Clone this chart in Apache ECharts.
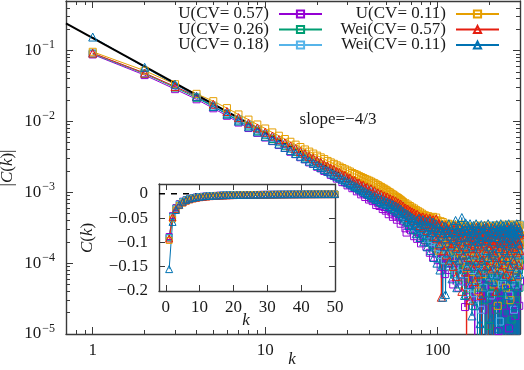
<!DOCTYPE html>
<html><head><meta charset="utf-8">
<script src="https://cdn.jsdelivr.net/npm/echarts@6/dist/echarts.min.js"></script>
<style>html,body{margin:0;padding:0;background:#fff}#c{width:524px;height:370px}</style>
</head><body><div id="c"></div><script>
const kValues = Array.from({length: 300}, (_, i) => i + 1);
const seriesNames = ['U(CV= 0.57)', 'U(CV= 0.26)', 'U(CV= 0.18)', 'U(CV= 0.11)', 'Wei(CV= 0.57)', 'Wei(CV= 0.11)'];

const u057 = [
.088,.045,.0285,.0205,.0153,.0120,.00963,.00806,.00689,.00592,
.00527,.00464,.00422,.00373,.00345,.00312,.00292,.00264,.00252,.00229,
.00217,.00200,.00193,.00176,.00170,.00156,.00156,.00139,.00138,.00125,
.00128,.00114,.00115,.00103,.00107,.000934,.000974,.000857,.000919,.000789,
.00082,.00075,.00079,.00066,.00071,.00064,.00069,.00058,.00062,.00055,
.00061,.00049,.00057,.00052,.00045,.00056,.00047,.00041,.00050,.00044,
3.6e-4,4.7e-4,3.9e-4,4.3e-4,3.1e-4,2.7e-4,4.1e-4,3.5e-4,3.8e-4,2.9e-4,
4.0e-4,3.3e-4,2.4e-4,3.6e-4,3.1e-4,2.2e-4,3.5e-4,2.8e-4,3.2e-4,1.9e-4,
3.0e-4,2.6e-4,3.3e-4,2.1e-4,2.7e-4,1.7e-4,2.9e-4,2.4e-4,3.1e-4,1.4e-4,
2.6e-4,2.2e-4,2.8e-4,1.2e-4,2.4e-4,1.9e-4,2.7e-4,1.6e-4,2.3e-4,1.1e-4,
2.3e-4,1.6e-4,2.0e-4,8.8e-5,2.2e-4,1.4e-4,1.8e-4,2.5e-4,1.2e-4,7e-5,
2.0e-4,1.5e-4,2.3e-4,1.0e-4,1.7e-4,2.1e-4,8e-5,1.9e-4,1.4e-4,2.2e-4,
1.2e-4,1.8e-4,5e-5,1.6e-4,2.0e-4,1.0e-4,1.7e-4,2.3e-4,9e-5,1.5e-4,
1.9e-4,4.5e-5,1.4e-4,1.9e-4,1.1e-4,1.6e-4,7e-5,2.1e-4,1.3e-4,9e-5,
1.7e-4,1.4e-4,5.5e-5,2.4e-5,1.5e-4,2.0e-4,1.0e-4,1.3e-4,6e-5,1.8e-4,
1.2e-4,1.6e-4,3.3e-5,1.4e-4,2.1e-4,7e-5,1.2e-4,1.7e-4,5e-5,1.1e-4,
1.8e-4,8e-5,1.4e-4,4e-6,1.1e-4,2.0e-4,6e-5,1.3e-4,9e-5,3.3e-5,
1.5e-4,1.0e-4,2.2e-4,5e-5,1.2e-4,1.7e-4,9e-5,3.5e-5,1.4e-4,1.1e-4,
1.9e-4,7e-5,1.3e-4,2.2e-5,1.6e-4,8e-5,1.3e-4,4.5e-5,2.0e-4,1.0e-4,
8e-6,1.4e-4,9e-5,1.7e-4,5e-5,1.2e-4,1.5e-4,3e-5,1.2e-4,7e-5,
1.8e-4,1.0e-4,4.5e-5,1.4e-4,8e-5,2.1e-4,9e-6,1.1e-4,1.5e-4,6e-5,
1.2e-4,9e-5,1.9e-4,3.5e-5,1.1e-4,7e-5,1.6e-4,2.2e-5,1.3e-4,9e-5,
5e-5,1.7e-4,8e-5,1.2e-4,1.1e-5,1.5e-4,1.0e-4,4e-5,1.8e-4,6e-5,
1.1e-4,1.4e-4,2.8e-5,9e-5,2.0e-4,7e-5,1.2e-4,2e-6,1.5e-4,8e-5,
5.5e-5,1.3e-4,1.7e-4,3.5e-5,1.0e-4,7.5e-5,1.9e-4,4.5e-5,1.2e-4,2e-5,
1.4e-4,9e-5,6e-5,1.6e-4,1.1e-4,4e-5,8e-5,1.5e-4,1.2e-5,1.3e-4,
7e-5,1.8e-4,1.0e-4,5e-5,1.2e-4,2.6e-5,1.6e-4,7.5e-5,1.4e-4,4.5e-5,
9e-5,2.0e-4,5e-6,1.1e-4,1.5e-4,6e-5,8.5e-5,1.7e-4,3.8e-5,1.3e-4,
1.0e-4,1.8e-5,1.6e-4,7e-5,1.2e-4,5e-5,1.9e-4,9e-5,3e-5,1.4e-4,
6.5e-5,1.7e-4,4.5e-5,1.1e-4,8e-5,2.1e-4,2.5e-5,1.3e-4,9e-5,5.5e-5
];
const u026 = [
.090,.047,.030,.0215,.0161,.0128,.0103,.00872,.00737,.00648,
.00564,.00508,.00447,.00413,.00369,.00346,.00309,.00296,.00266,.00260,
.00233,.00229,.00204,.00206,.00183,.00185,.00163,.00169,.00148,.00154,
.00134,.00143,.00122,.00133,.00113,.00125,.00103,.00117,.000953,.00111,
.00089,.00101,.00082,.00094,.00078,.00090,.00071,.00085,.00074,.00081,
.00066,.00079,.00070,.00064,.00075,.00058,.00069,.00062,.00054,.00067,
5.6e-4,4.9e-4,6.1e-4,4.4e-4,5.3e-4,4.0e-4,5.0e-4,3.7e-4,4.8e-4,4.2e-4,
3.4e-4,4.6e-4,3.9e-4,2.9e-4,4.3e-4,3.6e-4,4.1e-4,2.6e-4,3.8e-4,3.3e-4,
4.0e-4,2.4e-4,3.5e-4,3.0e-4,3.8e-4,2.1e-4,3.4e-4,2.8e-4,3.6e-4,2.3e-4,
3.2e-4,2.7e-4,1.8e-4,3.4e-4,2.5e-4,3.0e-4,1.6e-4,3.1e-4,2.2e-4,2.8e-4,
1.9e-4,3.0e-4,2.2e-4,1.3e-4,2.7e-4,1.9e-4,2.5e-4,1.1e-4,2.8e-4,2.1e-4,
1.5e-4,2.6e-4,1.8e-4,2.4e-4,9e-5,2.2e-4,2.8e-4,1.6e-4,2.0e-4,1.2e-4,
2.4e-4,1.7e-4,2.2e-4,7e-5,1.9e-4,2.6e-4,1.4e-4,2.0e-4,9e-5,2.3e-4,
1.6e-4,1.9e-4,5e-5,2.2e-4,1.5e-4,1.8e-4,1.1e-4,2.5e-4,1.3e-4,8e-5,
2.0e-4,1.6e-4,2.3e-4,1.0e-4,1.5e-4,3.5e-5,1.9e-4,1.5e-4,2.2e-4,1.2e-4,
8.5e-5,1.8e-4,1.3e-4,2.4e-4,6e-5,1.6e-4,2.0e-4,1.1e-4,1.5e-4,2.5e-5,
1.7e-4,1.2e-4,2.1e-4,9e-5,1.4e-4,6.5e-5,1.9e-4,1.1e-4,2.3e-4,4.5e-5,
1.3e-4,1.8e-4,9.5e-5,1.6e-4,5e-6,1.2e-4,2.0e-4,8e-5,1.5e-4,1.0e-4,
2.2e-4,5.5e-5,1.4e-4,1.7e-4,8.5e-5,1.3e-4,3e-5,1.9e-4,1.1e-4,1.6e-4,
7e-5,1.2e-4,2.1e-4,4.5e-5,1.5e-4,9e-5,1.8e-4,1.3e-5,1.3e-4,1.0e-4,
1.7e-4,6e-5,1.4e-4,8.5e-5,2.0e-4,1.1e-4,3.8e-5,1.6e-4,9e-5,1.9e-4,
7e-6,1.3e-4,1.0e-4,1.7e-4,6.5e-5,1.2e-4,2.1e-4,8e-5,4.5e-5,1.5e-4,
1.1e-4,1.8e-4,2.2e-5,1.4e-4,9e-5,1.6e-4,6e-5,1.2e-4,2.0e-4,7.5e-5,
1.3e-4,3.8e-5,1.7e-4,1.0e-4,1.5e-4,8e-5,2.2e-4,5e-5,1.1e-4,1.6e-4,
9e-5,3e-6,1.4e-4,1.9e-4,6.5e-5,1.2e-4,1.0e-4,1.7e-4,4.5e-5,1.3e-4,
8e-5,1.6e-4,1.1e-4,3e-5,1.8e-4,9e-5,1.4e-4,6e-5,2.0e-4,7.5e-5,
1.2e-4,1.5e-4,3.8e-5,1.0e-4,1.7e-4,8e-5,1.3e-4,1.6e-5,1.6e-4,1.1e-4,
6.5e-5,1.9e-4,9e-5,1.4e-4,4.5e-5,1.2e-4,2.1e-4,7.5e-5,1.0e-4,1.5e-4,
5e-5,1.3e-4,1.8e-4,8.5e-5,3e-5,1.6e-4,1.1e-4,9e-5,2.0e-4,6e-5,
1.4e-4,1.0e-4,9e-6,1.7e-4,1.2e-4,8e-5,1.5e-4,4.5e-5,1.9e-4,1.1e-4
];
const u018 = [
.091,.048,.031,.0222,.0167,.0131,.0107,.00893,.00765,.00664,
.00586,.00520,.00468,.00424,.00387,.00354,.00328,.00302,.00283,.00262,
.00248,.00230,.00220,.00204,.00197,.00183,.00178,.00166,.00162,.00150,
.00149,.00137,.00138,.00126,.00128,.00116,.00120,.00107,.00113,.00101,
.00106,.00093,.00099,.00087,.00094,.00080,.00090,.00077,.00086,.00072,
.00082,.00069,.00078,.00071,.00063,.00076,.00060,.00070,.00064,.00057,
6.6e-4,5.2e-4,5.9e-4,4.7e-4,5.6e-4,4.3e-4,5.3e-4,4.6e-4,3.9e-4,5.0e-4,
4.4e-4,3.6e-4,4.8e-4,3.2e-4,4.2e-4,4.6e-4,3.0e-4,4.0e-4,3.5e-4,4.3e-4,
2.8e-4,3.9e-4,3.4e-4,4.1e-4,2.5e-4,3.7e-4,3.2e-4,2.2e-4,3.8e-4,3.0e-4,
3.5e-4,2.0e-4,3.3e-4,2.8e-4,3.6e-4,1.7e-4,3.1e-4,2.6e-4,3.4e-4,1.9e-4,
2.6e-4,3.0e-4,1.3e-4,2.4e-4,1.9e-4,3.2e-4,1.5e-4,2.2e-4,2.8e-4,1.1e-4,
2.5e-4,2.0e-4,2.9e-4,1.3e-4,2.3e-4,1.7e-4,3.1e-4,9e-5,2.1e-4,2.6e-4,
1.4e-4,2.7e-4,1.9e-4,1.1e-4,2.4e-4,3.3e-4,7e-5,2.1e-4,1.7e-4,2.6e-4,
1.2e-4,2.3e-4,1.9e-4,5.5e-5,2.8e-4,1.5e-4,2.2e-4,9e-5,2.5e-4,1.7e-4,
3.0e-4,1.2e-4,2.0e-4,7e-5,2.4e-4,1.4e-4,2.7e-4,3.8e-5,1.8e-4,2.2e-4,
1.0e-4,2.9e-4,1.6e-4,1.2e-4,2.3e-4,4.5e-5,1.9e-4,2.6e-4,8e-5,2.1e-4,
1.5e-4,2.5e-4,3e-5,2.0e-4,1.3e-4,2.8e-4,9e-5,1.7e-4,2.2e-4,6e-5,
2.4e-4,1.2e-4,1.9e-4,3.1e-4,7.5e-5,1.6e-4,2.3e-4,2.2e-5,1.8e-4,1.4e-4,
2.7e-4,1.0e-4,2.1e-4,4.5e-5,2.5e-4,1.5e-4,1.9e-4,8e-5,3.0e-4,1.2e-4,
2.2e-4,7e-6,1.7e-4,2.6e-4,9.5e-5,2.0e-4,1.3e-4,3.2e-4,6.5e-5,1.8e-4,
2.3e-4,1.1e-4,2.8e-4,3.5e-5,1.6e-4,2.1e-4,8.5e-5,2.5e-4,1.4e-4,3.4e-4,
7e-5,1.9e-4,2.4e-4,4e-6,1.7e-4,1.2e-4,2.9e-4,9e-5,2.0e-4,1.5e-4,
2.6e-4,5.5e-5,2.2e-4,1.3e-4,3.1e-4,8e-5,1.8e-4,2.3e-4,1.5e-5,1.6e-4,
2.7e-4,1.0e-4,2.1e-4,1.4e-4,3.3e-4,5e-5,1.9e-4,2.5e-4,8.5e-5,1.7e-4,
2.2e-4,1.2e-4,3.0e-4,6.5e-5,2.0e-4,1.5e-4,2.6e-4,6e-6,1.8e-4,2.3e-4,
9.5e-5,2.8e-4,1.4e-4,2.1e-4,7e-5,3.2e-4,1.6e-4,1.1e-4,2.4e-4,3.5e-5,
1.9e-4,2.9e-4,8.5e-5,2.2e-4,1.5e-4,3.5e-4,5.5e-5,1.7e-4,2.5e-4,1.2e-4,
2.0e-4,7.5e-5,3.1e-4,1.6e-4,1.0e-4,2.3e-4,2.2e-5,2.7e-4,1.3e-4,1.8e-4,
3.3e-4,9e-5,2.1e-4,1.4e-4,2.6e-4,5e-5,1.9e-4,3.0e-4,1.1e-4,1.6e-4,
2.4e-4,7e-5,2.8e-4,1.5e-4,2.0e-4,5e-6,3.2e-4,1.2e-4,2.2e-4,3.5e-4
];
const u011 = [
.096,.052,.0335,.0245,.0193,.0154,.01254,.0106,.00905,.00794,
.00699,.00628,.00564,.00516,.00470,.00435,.00402,.00375,.00352,.00329,
.00311,.00294,.00277,.00264,.00252,.00240,.00230,.00220,.00211,.00203,
.00196,.00187,.00181,.00176,.00169,.00164,.00159,.00154,.00150,.00146,
.00142,.00137,.00134,.00129,.00126,.00121,.00119,.00114,.00112,.00108,
.00105,.00101,.00099,.00095,.00093,.00090,.00087,.00085,.00083,.00080,
7.8e-4,7.5e-4,7.3e-4,6.8e-4,7.0e-4,6.4e-4,6.7e-4,6.1e-4,6.4e-4,5.8e-4,
6.1e-4,5.6e-4,5.9e-4,5.2e-4,5.6e-4,5.0e-4,5.4e-4,4.7e-4,5.2e-4,4.5e-4,
5.0e-4,4.3e-4,4.8e-4,3.9e-4,4.7e-4,4.2e-4,3.6e-4,4.6e-4,4.0e-4,4.4e-4,
3.4e-4,4.3e-4,3.8e-4,4.5e-4,3.1e-4,4.1e-4,3.6e-4,4.4e-4,2.8e-4,4.0e-4,
1.5e-4,3.6e-4,3.0e-4,3.9e-4,2.3e-4,3.3e-4,3.8e-4,2.0e-4,3.1e-4,3.5e-4,
2.6e-4,3.4e-4,1.8e-4,3.2e-4,3.6e-4,2.3e-4,3.0e-4,1.6e-4,3.3e-4,2.8e-4,
3.5e-4,2.0e-4,3.1e-4,1.2e-4,2.9e-4,3.4e-4,1.8e-4,3.2e-4,2.5e-4,3.0e-4,
1.4e-4,3.3e-4,2.7e-4,2.1e-4,3.1e-4,3.5e-4,1.6e-4,2.8e-4,2.3e-4,3.2e-4,
1.1e-4,2.9e-4,3.4e-4,1.9e-4,2.6e-4,3.1e-4,8.5e-5,2.8e-4,2.2e-4,3.3e-4,
1.7e-4,2.7e-4,3.2e-4,1.2e-4,2.5e-4,3.0e-4,2.0e-4,6e-5,2.9e-4,2.4e-4,
3.2e-4,1.5e-4,2.6e-4,2.1e-4,3.1e-4,1.0e-4,2.8e-4,2.3e-4,3.4e-4,1.8e-4,
2.5e-4,4e-5,3.0e-4,2.0e-4,2.7e-4,3.2e-4,1.4e-4,2.4e-4,2.9e-4,1.1e-4,
2.6e-4,3.3e-4,1.9e-4,2.3e-4,7e-5,3.0e-4,2.5e-4,3.1e-4,1.6e-4,2.7e-4,
2.2e-4,3.4e-4,1.0e-4,2.8e-4,2.4e-4,6e-6,2.9e-4,2.0e-4,3.2e-4,1.7e-4,
2.6e-4,1.3e-4,3.0e-4,2.3e-4,3.3e-4,8e-5,2.5e-4,2.8e-4,1.9e-4,3.1e-4,
5e-5,2.7e-4,2.2e-4,3.2e-4,1.5e-4,2.4e-4,2.9e-4,1.1e-4,2.6e-4,2.1e-4,
3.4e-4,1.6e-4,2.5e-5,2.8e-4,2.3e-4,3.1e-4,1.2e-4,2.5e-4,3.0e-4,1.8e-4,
2.4e-4,3.3e-4,9e-5,2.7e-4,2.0e-4,2.9e-4,8e-6,2.2e-4,3.2e-4,1.4e-4,
2.6e-4,2.1e-4,3.5e-4,1.0e-4,2.4e-4,2.8e-4,1.7e-4,3.1e-4,4.5e-5,2.5e-4,
3.0e-4,1.5e-4,2.3e-4,3.2e-4,1.9e-4,7e-5,2.7e-4,2.2e-4,3.4e-4,1.3e-4,
2.5e-4,2.9e-4,1.8e-4,3e-5,2.6e-4,2.1e-4,3.3e-4,1.1e-4,2.4e-4,2.8e-4,
1.6e-4,3.1e-4,2.2e-4,9e-5,3.0e-4,2.5e-4,3.5e-4,1.4e-4,2.0e-4,5e-6,
2.7e-4,2.3e-4,3.2e-4,1.2e-4,2.5e-4,2.9e-4,1.7e-4,6.5e-5,2.6e-4,2.1e-4,
3.3e-4,1.5e-4,2.4e-4,3.0e-4,1.0e-4,2.8e-4,2.2e-4,3.4e-4,1.8e-4,2.5e-4
];
const wei057 = [
.092,.048,.031,.0225,.0175,.0138,.0113,.00942,.00808,.00703,
.00622,.00552,.00498,.00450,.00412,.00376,.00349,.00321,.00301,.00279,
.00264,.00245,.00234,.00218,.00210,.00196,.00190,.00177,.00173,.00161,
.00159,.00147,.00146,.00135,.00135,.00124,.00126,.00115,.00118,.00106,
.00112,.00099,.00105,.00093,.00098,.00087,.00094,.00082,.00089,.00078,
.00086,.00074,.00081,.00071,.00078,.00066,.00075,.00063,.00071,.00060,
6.8e-4,5.5e-4,6.4e-4,5.2e-4,6.0e-4,4.9e-4,5.8e-4,4.4e-4,5.5e-4,4.7e-4,
5.3e-4,4.0e-4,5.1e-4,4.3e-4,3.7e-4,4.9e-4,4.1e-4,4.6e-4,3.4e-4,4.4e-4,
3.9e-4,4.5e-4,3.2e-4,4.2e-4,3.6e-4,4.4e-4,2.9e-4,4.0e-4,3.5e-4,4.3e-4,
2.7e-4,3.8e-4,3.3e-4,4.1e-4,2.4e-4,3.6e-4,3.1e-4,4.2e-4,2.2e-4,3.5e-4,
2.7e-4,3.6e-4,1.8e-4,3.1e-4,3.3e-5,2.6e-4,3.4e-4,1.5e-4,2.9e-4,2.2e-4,
3.4e-4,1.3e-4,2.6e-4,3.1e-4,1.9e-4,2.9e-4,1.1e-4,2.4e-4,3.2e-4,1.7e-4,
2.7e-4,2.1e-4,9e-5,3.0e-4,1.9e-4,2.4e-4,3.3e-4,6.5e-5,2.5e-4,1.7e-4,
2.8e-4,2.2e-4,1.1e-4,3.1e-4,1.5e-4,2.3e-4,2.7e-4,4e-5,2.0e-4,2.9e-4,
1.3e-4,2.4e-4,3.0e-4,1.7e-4,7.5e-5,2.6e-4,2e-6,2.1e-4,2.8e-4,1.2e-4,
2.3e-4,3.1e-4,1.6e-4,3e-5,2.5e-4,1.9e-4,2.9e-4,9e-5,2.1e-4,2.6e-4,
1.4e-4,3.0e-4,1.8e-4,5.5e-5,2.7e-4,2.2e-4,1.0e-4,3.2e-4,1.6e-4,2.3e-4,
2.8e-4,7e-5,2.0e-4,2.5e-4,1.2e-4,2.9e-4,1.7e-4,3.5e-5,2.6e-4,3e-6,
2.1e-4,3.0e-4,1.1e-4,2.3e-4,1.8e-4,3.1e-4,8e-5,2.4e-4,1.9e-4,7e-6,
2.7e-4,1.4e-4,2.2e-4,3.2e-4,9e-5,2.0e-4,4e-6,2.8e-4,1.6e-4,2.3e-4,
1.1e-4,2.9e-4,1.9e-4,9e-6,2.6e-4,1.5e-4,2.2e-4,3.1e-4,8.5e-5,2.1e-4,
2.7e-4,5e-6,1.8e-4,3.0e-4,1.3e-4,2.3e-4,1.6e-4,4e-5,2.8e-4,2.0e-4,
1.2e-4,2.5e-4,2e-6,2.2e-4,3.1e-4,1.0e-4,1.9e-4,2.6e-4,8e-6,1.7e-4,
2.9e-4,8e-5,2.1e-4,2.5e-4,4e-6,1.8e-4,2.7e-4,1.2e-4,2.3e-4,7e-6,
2.0e-4,3.0e-4,9.5e-5,1.5e-4,2.8e-4,3e-6,2.2e-4,1.4e-4,2.6e-4,7e-5,
1.9e-4,6e-6,2.9e-4,1.6e-4,2.3e-4,1.1e-4,3.2e-4,5e-6,2.0e-4,2.5e-4,
8.5e-5,1.8e-4,2.8e-4,9e-6,2.1e-4,1.5e-4,3.1e-4,6.5e-5,2.2e-4,4e-6,
2.7e-4,1.7e-4,1.1e-4,3.0e-4,2e-6,2.0e-4,2.5e-4,1.0e-4,1.9e-4,2.9e-4,
6e-6,2.3e-4,1.6e-4,3.2e-4,8e-5,2.1e-4,3e-6,2.6e-4,1.4e-4,2.2e-4,
2.8e-4,8e-6,1.8e-4,3.1e-4,9.5e-5,2.0e-4,5e-6,2.5e-4,1.5e-4,2.7e-4
];
const wei011 = [
.155,.058,.0335,.0225,.0162,.0126,.0101,.00838,.00713,.00616,
.00541,.00480,.00430,.00388,.00353,.00323,.00298,.00275,.00256,.00239,
.00224,.00210,.00198,.00187,.00177,.00168,.00160,.00152,.00145,.00138,
.00132,.00127,.00121,.00117,.00112,.00108,.00104,.00100,.00097,.00093,
.00091,.00084,.00088,.00079,.00083,.00074,.00080,.00070,.00076,.00067,
.00073,.00063,.00070,.00060,.00067,.00056,.00064,.00053,.00061,.00050,
5.8e-4,4.6e-4,5.4e-4,4.2e-4,5.1e-4,3.8e-4,4.9e-4,3.4e-4,4.6e-4,3.9e-4,
4.4e-4,3.0e-4,4.2e-4,3.6e-4,2.6e-4,4.0e-4,3.3e-4,4.3e-4,2.3e-4,3.7e-4,
3.1e-4,4.1e-4,2.0e-4,3.5e-4,2.8e-4,3.9e-4,1.7e-4,3.3e-4,2.5e-4,4.0e-4,
1.5e-4,3.2e-4,2.7e-4,3.8e-4,1.2e-4,3.0e-4,2.3e-4,3.6e-4,1.0e-4,2.9e-4,
3.2e-4,1.9e-4,8e-5,2.9e-4,2.4e-4,3.5e-4,3.3e-5,2.6e-4,1.7e-4,3.3e-4,
3.6e-5,2.2e-4,3.0e-4,1.4e-4,2.7e-4,3.6e-4,1.0e-4,2.4e-4,3.1e-4,1.8e-4,
6e-5,2.8e-4,2.2e-4,3.4e-4,1.2e-4,2.6e-4,4.0e-4,1.6e-4,4.5e-5,3.0e-4,
2.1e-4,3.5e-4,1.1e-4,2.7e-4,3.2e-4,7e-5,2.3e-4,4.4e-4,1.8e-4,2.9e-4,
1.3e-4,3.3e-4,3.5e-5,2.4e-4,3.7e-4,1.6e-4,2.8e-4,9e-5,3.4e-4,2.0e-4,
3.0e-4,1.1e-4,2.5e-4,3.6e-4,5e-5,2.2e-4,3.1e-4,1.8e-5,2.7e-4,1.7e-4,
3.4e-4,9e-5,2.2e-4,2.9e-4,2.5e-5,2.5e-4,3.6e-4,1.3e-4,2.0e-4,8e-6,
3.0e-4,1.8e-4,3.3e-4,7.5e-5,2.3e-4,1.4e-5,4e-6,2.0e-4,3.5e-4,1.1e-4,
2.5e-4,6e-6,3.0e-4,4.5e-5,2.6e-4,9e-5,3.4e-4,3e-6,2.1e-4,1.5e-4,
3.2e-5,2.4e-4,5e-6,3.1e-4,1.2e-4,3.6e-4,6e-5,2.3e-4,2e-6,1.7e-4,
2.8e-4,8e-5,1.6e-5,7e-6,3.0e-4,1.3e-4,2.4e-4,4e-6,3.4e-4,5.5e-5,
2.0e-4,2.7e-4,3e-6,1.4e-4,3.2e-4,2.8e-5,6e-6,2.6e-4,1.0e-4,3.5e-4,
7e-5,5e-6,2.3e-4,2.9e-4,1.2e-5,2e-6,3.3e-4,1.6e-4,2.5e-4,8e-6,
1.9e-4,3.6e-4,4e-5,4e-6,3.0e-4,1.1e-4,2.2e-4,3e-6,3.4e-4,6.5e-5,
6e-6,2.7e-4,1.5e-4,3.1e-4,1e-6,2.0e-4,3.5e-5,3.5e-4,5e-6,2.4e-4,
1.2e-4,3.2e-4,7e-6,1.8e-4,2.8e-4,5e-5,2e-6,3.6e-4,1.4e-4,2.6e-4,
4e-6,2.2e-4,3.0e-4,9e-5,6e-6,2.7e-4,1.3e-5,3.3e-4,3e-6,1.9e-4,
2.9e-4,6e-5,5e-6,2.4e-4,1.1e-4,3.4e-4,2e-6,2.0e-4,2.7e-4,2.5e-5,
7e-6,3.1e-4,1.6e-4,2.5e-4,4e-6,8e-5,3.6e-4,4.5e-5,6e-6,2.9e-4,
2.1e-4,3e-6,2.6e-4,1.3e-4,3.2e-4,5e-6,1.8e-4,2.8e-4,7e-5,4e-6
];
const allValues = [u057, u026, u018, u011, wei057, wei011];

// fitted power law, slope -4/3, end points
const fitLine = [[0.7, 0.2413], [300, 7.47e-5]];
const slopeText = 'slope=−4/3';
const insetMaxK = 50;
const zeroLine = [[-2, 0], [50, 0]];

const xMajorTicks = [1, 10, 100];
const xMinorTicks = [0.8, 0.9, 2, 3, 4, 5, 6, 7, 8, 9, 20, 30, 40, 50, 60, 70, 80, 90, 200];
const yMajorTicks = [1e-5, 1e-4, 1e-3, 1e-2, 1e-1];
const yMinorTicks = [2e-5,3e-5,4e-5,5e-5,6e-5,7e-5,8e-5,9e-5,2e-4,3e-4,4e-4,5e-4,6e-4,7e-4,8e-4,9e-4,
  2e-3,3e-3,4e-3,5e-3,6e-3,7e-3,8e-3,9e-3,2e-2,3e-2,4e-2,5e-2,6e-2,7e-2,8e-2,9e-2,0.2,0.3,0.4];
const insetXTicks = [0, 10, 20, 30, 40, 50];
const insetYTicks = [-0.2, -0.15, -0.1, -0.05, 0];

const colors = ['#9400d3', '#009e73', '#56b4e9', '#e69f00', '#e51e10', '#0072b2'];
const symbols = ['rect', 'rect', 'rect', 'rect', 'triangle', 'triangle'];

const FONT = 'Liberation Serif';
const AX = '#3a3a3a';
const TX = '#1a1a1a';

function axis(type, gridIndex, position, min, max, ticks, len, showLine, label) {
  return {
    type, gridIndex, position, min, max, logBase: 10,
    axisLine: {show: showLine, onZero: false, lineStyle: {color: AX, width: 1.4}},
    axisTick: {show: true, inside: true, length: len, customValues: ticks, lineStyle: {color: AX, width: 1}},
    axisLabel: label ? Object.assign({customValues: ticks, color: TX, fontFamily: FONT, fontSize: 17}, label) : {show: false},
    splitLine: {show: false}, minorTick: {show: false}, minorSplitLine: {show: false},
    silent: true
  };
}

const xAxes = [
  axis('log', 0, 'bottom', 0.7, 300, xMajorTicks, 7, true, {margin: 8, formatter: v => String(Math.round(v))}),
  axis('log', 0, 'bottom', 0.7, 300, xMinorTicks, 4, false, null),
  axis('log', 0, 'top', 0.7, 300, xMajorTicks, 7, true, null),
  axis('log', 0, 'top', 0.7, 300, xMinorTicks, 4, false, null),
  axis('value', 1, 'bottom', -2, 50, insetXTicks, 6, true, {margin: 8, formatter: v => String(v)}),
  axis('value', 1, 'top', -2, 50, insetXTicks, 6, true, null)
];
const yAxes = [
  axis('log', 0, 'left', 1e-5, 0.5, yMajorTicks, 7, true, {
    margin: 11,
    formatter: v => '{b|10}{s|−' + Math.round(-Math.log10(v)) + '}',
    rich: {
      b: {fontFamily: FONT, fontSize: 17, color: TX, lineHeight: 17, verticalAlign: 'bottom'},
      s: {fontFamily: FONT, fontSize: 12, color: TX, lineHeight: 12, verticalAlign: 'bottom', padding: [0, 0, 8, 1]}
    }
  }),
  axis('log', 0, 'left', 1e-5, 0.5, yMinorTicks, 4, false, null),
  axis('log', 0, 'right', 1e-5, 0.5, yMajorTicks, 7, true, null),
  axis('log', 0, 'right', 1e-5, 0.5, yMinorTicks, 4, false, null),
  axis('value', 1, 'left', -0.2, 0.02, insetYTicks, 6, true, {margin: 11, formatter: v => v === 0 ? '0' : '−' + String(Math.abs(v))}),
  axis('value', 1, 'right', -0.2, 0.02, insetYTicks, 6, true, null)
];

const series = [];
allValues.forEach((vals, i) => {
  series.push({
    name: seriesNames[i], type: 'line', xAxisIndex: 0, yAxisIndex: 0,
    data: kValues.map((k, j) => [k, vals[j]]),
    symbol: symbols[i], symbolSize: symbols[i] === 'rect' ? 7 : 8,
    itemStyle: {color: 'rgba(255,255,255,0)', borderColor: colors[i], borderWidth: 1},
    lineStyle: {color: colors[i], width: 1},
    clip: true, animation: false, silent: true
  });
});
series.push({
  name: 'fit', type: 'line', xAxisIndex: 0, yAxisIndex: 0, data: fitLine,
  symbol: 'none', lineStyle: {color: '#000', width: 2}, clip: true, animation: false, silent: true
});
allValues.forEach((vals, i) => {
  series.push({
    name: 'inset ' + seriesNames[i], type: 'line', xAxisIndex: 4, yAxisIndex: 4,
    data: kValues.filter(k => k <= insetMaxK).map((k, j) => [k, -vals[j]]),
    symbol: symbols[i], symbolSize: symbols[i] === 'rect' ? 6 : 7,
    itemStyle: {color: 'rgba(255,255,255,0)', borderColor: colors[i], borderWidth: 1},
    lineStyle: {color: colors[i], width: 1},
    clip: false, animation: false, silent: true
  });
});
series.push({
  name: 'zero', type: 'line', xAxisIndex: 4, yAxisIndex: 4, data: zeroLine,
  symbol: 'none', lineStyle: {color: '#000', width: 1.5, type: [6, 6]}, animation: false, silent: true
});

const legendTops = [5.5, 21, 36.5];
const legends = seriesNames.map((n, i) => ({
  data: [n], orient: 'horizontal', align: 'right',
  right: i < 3 ? 201 : 24, top: legendTops[i % 3],
  itemWidth: 43, itemHeight: 9, padding: 0, itemGap: 0, selectedMode: false,
  textStyle: {fontFamily: FONT, fontSize: 17, color: TX, lineHeight: 17, padding: [0, 5, 0, 0]}
}));

const ital = {fontFamily: FONT, fontSize: 17, fontStyle: 'italic', fill: TX};

const chart = echarts.init(document.getElementById('c'), null, {renderer: 'canvas'});
chart.setOption({
  animation: false,
  backgroundColor: '#fff',
  textStyle: {fontFamily: FONT},
  grid: [
    {left: 66, right: 4, top: 1, bottom: 36, show: false},
    {left: 159, top: 184, width: 176, height: 107, show: true, backgroundColor: '#fff', borderWidth: 0}
  ],
  xAxis: xAxes, yAxis: yAxes,
  legend: legends,
  series,
  graphic: [
    {type: 'text', x: 292, y: 360, style: {text: 'k', font: 'italic 17px "Liberation Serif"', fill: TX, align: 'center', verticalAlign: 'middle'}},
    {type: 'text', x: 246, y: 321, style: {text: 'k', font: 'italic 17px "Liberation Serif"', fill: TX, align: 'center', verticalAlign: 'middle'}},
    {type: 'text', x: 8, y: 168, rotation: Math.PI / 2, style: {text: '|{i|C}(' + '{i|k})|', rich: {i: ital}, font: '17px "Liberation Serif"', fill: TX, align: 'center', verticalAlign: 'middle'}},
    {type: 'text', x: 88, y: 238, rotation: Math.PI / 2, style: {text: '{i|C}(' + '{i|k})', rich: {i: ital}, font: '17px "Liberation Serif"', fill: TX, align: 'center', verticalAlign: 'middle'}},
    {type: 'text', x: 338, y: 120, style: {text: slopeText, font: '17px "Liberation Serif"', fill: TX, align: 'center', verticalAlign: 'middle'}}
  ]
});
</script></body></html>
